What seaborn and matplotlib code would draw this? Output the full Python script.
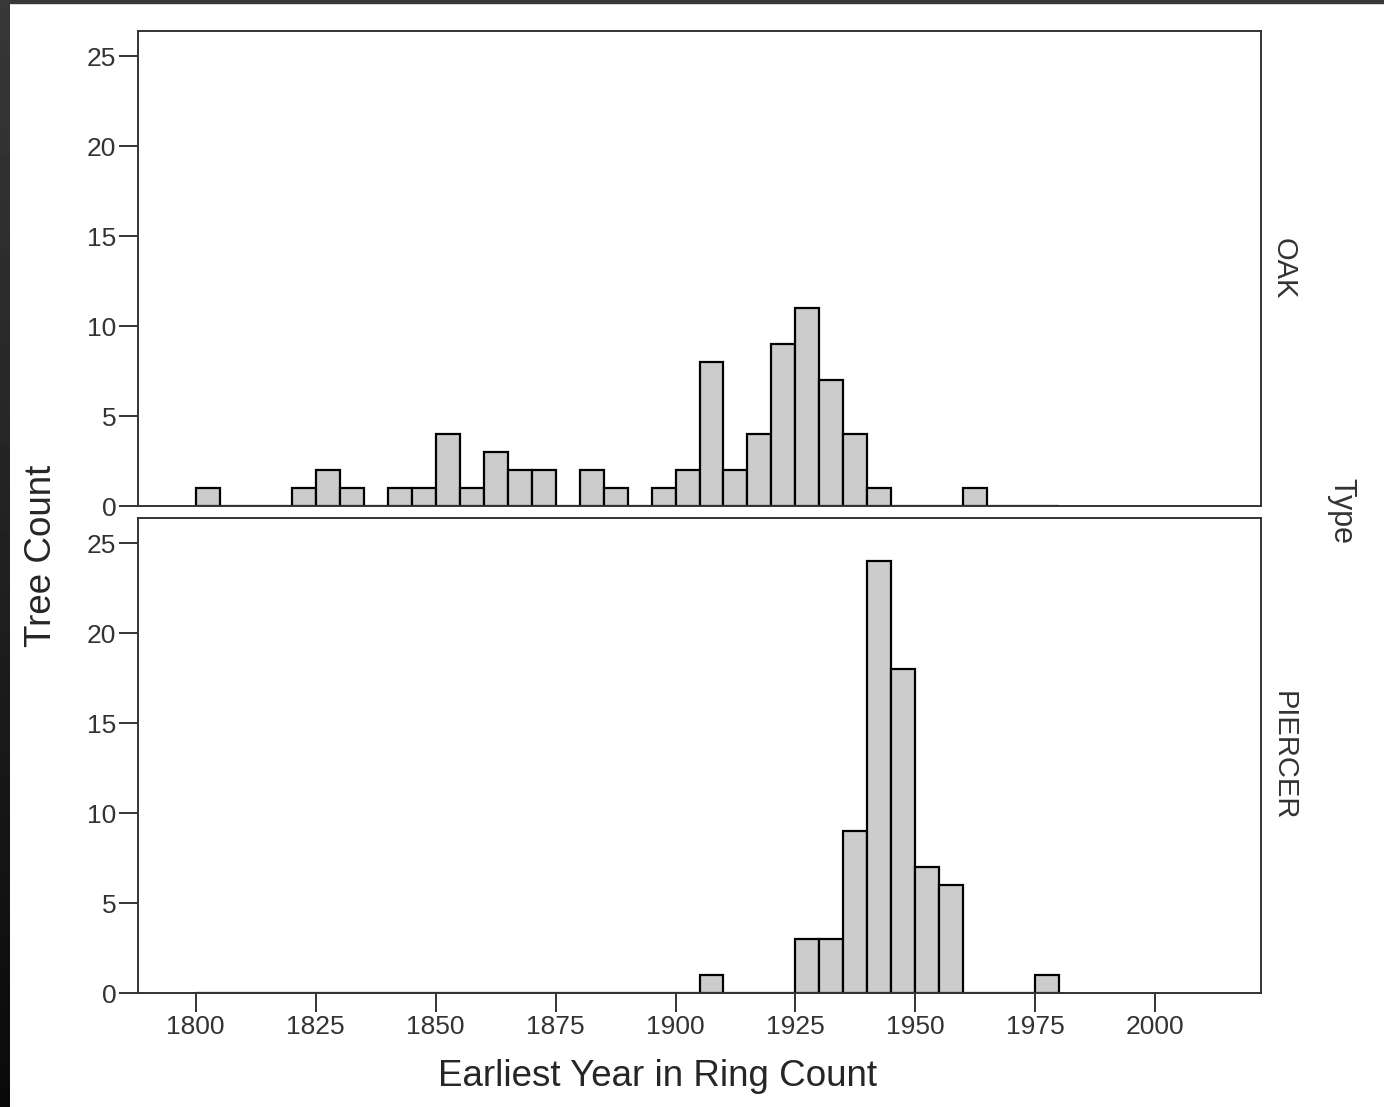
import numpy as np
import pandas as pd
import matplotlib as mpl
from matplotlib import pyplot as plt
import seaborn as sns

sns.set_theme(style='white')
plt.rcParams['font.family'] = ['Liberation Sans', 'DejaVu Sans']

# 5-year bins, value = lower edge of the bin
oak_years = [1800, 1820, 1825, 1830, 1840, 1845, 1850, 1855, 1860, 1865, 1870,
             1880, 1885, 1895, 1900, 1905, 1910, 1915, 1920, 1925, 1930, 1935,
             1940, 1960]
oak_counts = [1, 1, 2, 1, 1, 1, 4, 1, 3, 2, 2, 2, 1, 1, 2, 8, 2, 4, 9, 11, 7, 4, 1, 1]
piercer_years = [1905, 1925, 1930, 1935, 1940, 1945, 1950, 1955, 1975]
piercer_counts = [1, 3, 3, 9, 24, 18, 7, 6, 1]
type_order = ['OAK', 'PIERCER']
x_ticks = [1800, 1825, 1850, 1875, 1900, 1925, 1950, 1975, 2000]
y_ticks = [0, 5, 10, 15, 20, 25]

df = pd.concat([
    pd.DataFrame({'year': np.array(oak_years) + 2.5, 'count': oak_counts, 'Type': 'OAK'}),
    pd.DataFrame({'year': np.array(piercer_years) + 2.5, 'count': piercer_counts, 'Type': 'PIERCER'}),
])

g = sns.FacetGrid(df, row='Type', row_order=type_order, margin_titles=True,
                  sharex=True, sharey=True, despine=False, height=5, aspect=2)
g.map_dataframe(sns.histplot, x='year', weights='count', binwidth=5, binrange=(1800, 1980),
                color='#cccccc', edgecolor='black', linewidth=1.6, alpha=1)
g.set_axis_labels('', '')
g.set_titles(template='', row_template='')

fig = g.fig
fig.set_size_inches(13.84, 11.07)
fig.subplots_adjust(left=138/1384, right=1261/1384, top=1-31/1107, bottom=1-993/1107,
                    hspace=0.025)

for i, ax in enumerate(g.axes.flat):
    ax.set_xlim(1788, 2022)
    ax.set_ylim(0, 26.4)
    ax.set_xticks(x_ticks)
    ax.set_yticks(y_ticks)
    for s in ax.spines.values():
        s.set_color('#333333')
        s.set_linewidth(1.4)
    ax.tick_params(left=True, bottom=(i == 1), direction='out', length=13.5,
                   width=1.4, color='#333333', labelsize=19, labelcolor='#333333', pad=2)
    # row label on the right margin
    ax.text(1.008, 0.5, type_order[i], transform=ax.transAxes, rotation=270,
            ha='left', va='center', fontsize=21, color='#333333')

fig.text(42/1384, 1-556/1107, 'Tree Count', rotation=90, ha='center', va='center', fontsize=26.5)
fig.text(658/1384, 1-1077/1107, 'Earliest Year in Ring Count', ha='center', va='center', fontsize=26.5)
fig.text(1341/1384, 1-511/1107, 'Type', rotation=270, ha='center', va='center',
         fontsize=22, color='#333333')

# dark frame strip on the left and top edges
edge = fig.add_axes([0, 0, 10/1384, 1])
edge.imshow(np.linspace(0.22, 0.04, 100).reshape(-1, 1), cmap='gray', vmin=0, vmax=1,
            aspect='auto')
edge.axis('off')
fig.patches.append(mpl.patches.Rectangle((0, 1-3/1107), 1, 3/1107, transform=fig.transFigure,
                                         color='#383838', zorder=-1))

fig.savefig('out.png', dpi=100)
